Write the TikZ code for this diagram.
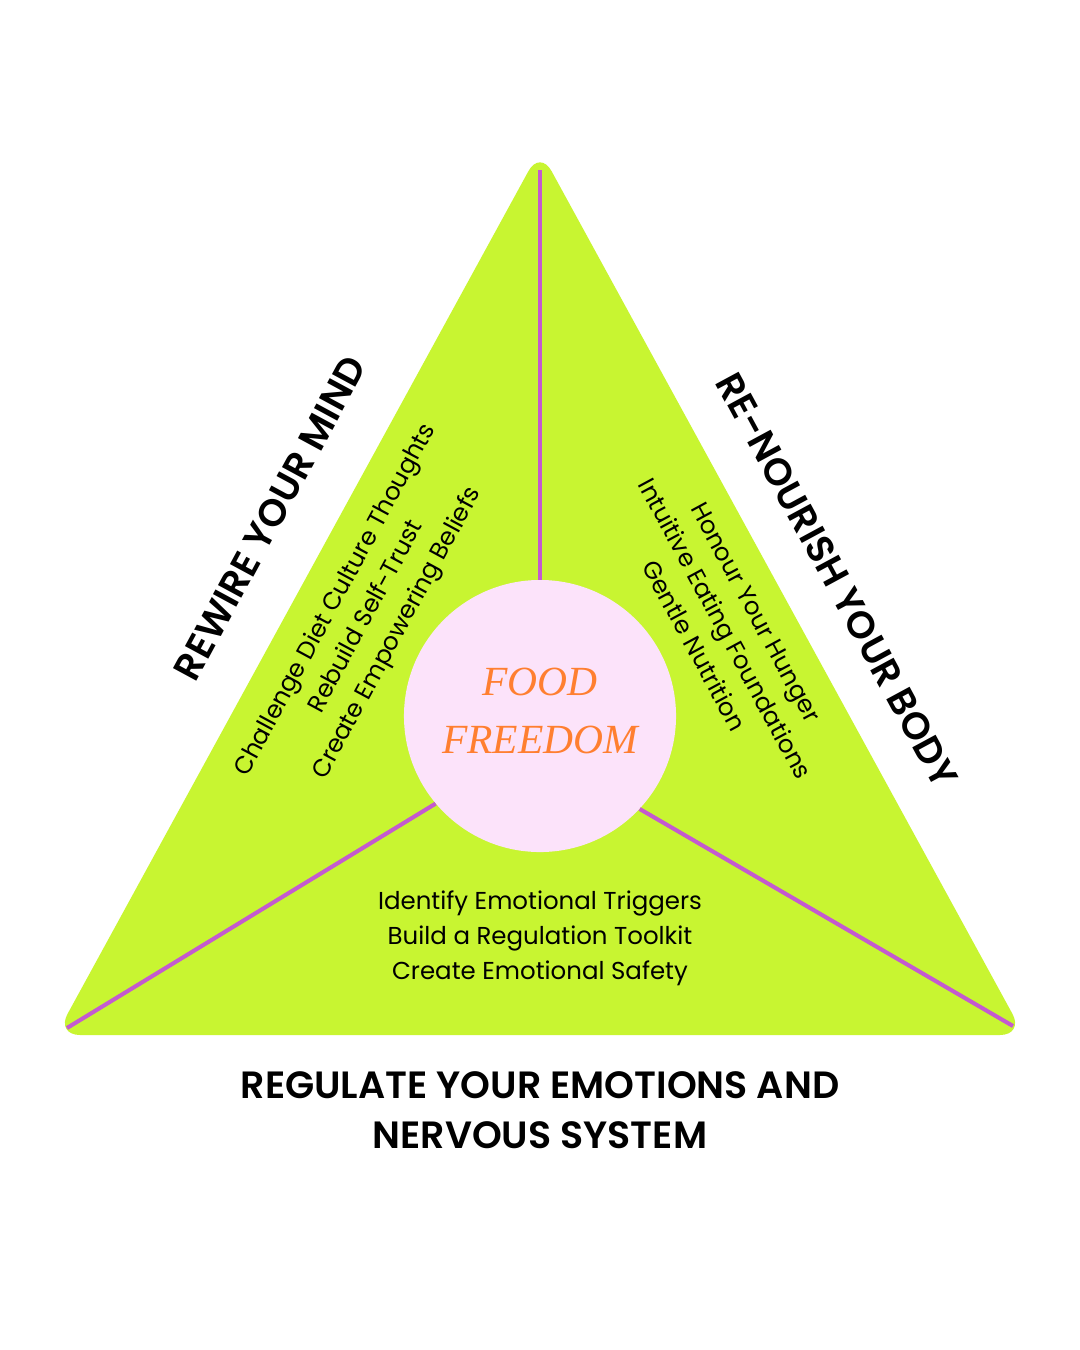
\documentclass[tikz,border=0pt]{standalone}
\usepackage{fontspec}
\usepackage{xcolor}
\usetikzlibrary{positioning, calc}
\setmainfont{Poppins}
\newfontfamily\headfont{Poppins}[BoldFont=* SemiBold]
\newfontfamily\hubfont{Liberation Serif}
\definecolor{LimeA}{HTML}{C8F531}
\definecolor{PinkA}{HTML}{FCE3FA}
\definecolor{PurpleA}{HTML}{C45ACF}
\definecolor{OrangeA}{HTML}{FF7F30}
\tikzset{
  hd/.style={font=\headfont\bfseries\fontsize{27}{35.5}\selectfont, align=center, inner sep=0pt},
  it/.style={font=\fontsize{17.4}{24.9}\selectfont, align=center, inner sep=0pt},
  spk/.style={draw=PurpleA, line width=2.9pt},
  hub/.style={circle, fill=PinkA, minimum size=6.8cm, inner sep=0pt},
  hubtx/.style={align=center, inner sep=0pt, text=OrangeA,
                font=\hubfont\itshape\fontsize{29.5}{41}\selectfont},
}
\begin{document}
\begin{tikzpicture}[x=0.025cm, y=-0.025cm]
  \useasboundingbox[fill=white] (0,0) rectangle (1080,1350);

  % triangle corners
  \coordinate (apex) at (540,150);
  \coordinate (bl) at (56,1035);
  \coordinate (br) at (1024,1035);
  \fill[LimeA, rounded corners=0.6cm] (apex) -- (br) -- (bl) -- cycle;

  % spoke ends
  \coordinate (apexend) at (540,170);
  \coordinate (blend) at (67,1028);
  \coordinate (brend) at (1013,1026);

  \node[hub] (hub) at (540,716) {};
  \node[hubtx] (hubtext) at (540,711) {FOOD\\FREEDOM};
  \draw[spk] (hub.north) -- (apexend);
  \draw[spk] (hub.220) -- (blend);
  \draw[spk] (hub.317) -- (brend);

  \node[hd, rotate=61.6] (mind) at (270,518) {REWIRE YOUR MIND};
  \node[it, rotate=61.6] (minditems) at (367,617)
       {Challenge Diet Culture Thoughts\\Rebuild Self-Trust\\Create Empowering Beliefs};

  \node[hd, rotate=-61.6] (body) at (837,580) {RE-NOURISH YOUR BODY};
  \node[it, rotate=-61.6] (bodyitems) at (725,629)
       {Honour Your Hunger\\Intuitive Eating Foundations\\Gentle Nutrition};

  \node[it] (emoitems) at (540,938)
       {Identify Emotional Triggers\\Build a Regulation Toolkit\\Create Emotional Safety};
  \node[hd] (emo) at (540,1110) {REGULATE YOUR EMOTIONS AND\\NERVOUS SYSTEM};
\end{tikzpicture}
\end{document}
